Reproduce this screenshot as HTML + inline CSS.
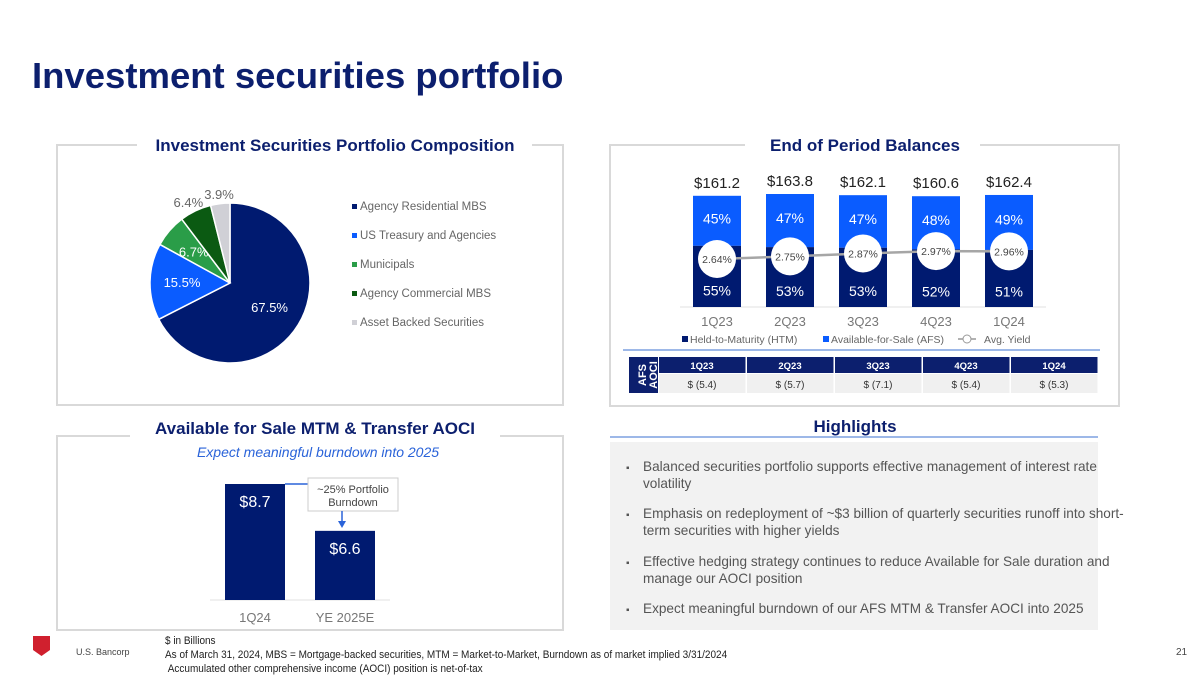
<!DOCTYPE html>
<html><head><meta charset="utf-8"><style>
body{margin:0;background:#fff;}
svg{display:block;font-family:"Liberation Sans",sans-serif;}
</style></head><body>
<svg id="s" width="1200" height="675" viewBox="0 0 1200 675">
<text x="32" y="88" font-size="36.5" font-weight="bold" fill="#0c1f6e">Investment securities portfolio</text>

<g>
<path d="M137 145 H57 V405 H563 V145 H532" fill="none" stroke="#d9d9d9" stroke-width="2"/>
<text x="335" y="151" text-anchor="middle" font-size="17" font-weight="bold" fill="#0c1f6e">Investment Securities Portfolio Composition</text>
<g id="pie"></g>
<g id="pieLegend"></g>
</g>

<g>
<path d="M745 145 H610 V406 H1119 V145 H980" fill="none" stroke="#d9d9d9" stroke-width="2"/>
<text x="865" y="151" text-anchor="middle" font-size="17" font-weight="bold" fill="#0c1f6e">End of Period Balances</text>
<line x1="680" y1="307" x2="1046" y2="307" stroke="#e0e0e0" stroke-width="1"/>
<g id="bars"></g>
<g>
<rect x="682" y="336" width="6" height="6" fill="#001a70"/>
<text x="690" y="343" font-size="10.5" fill="#666">Held-to-Maturity (HTM)</text>
<rect x="823" y="336" width="6" height="6" fill="#0a5cff"/>
<text x="831" y="343" font-size="10.5" fill="#666">Available-for-Sale (AFS)</text>
<line x1="958" y1="339" x2="976" y2="339" stroke="#999" stroke-width="1.5"/>
<circle cx="967" cy="339" r="4" fill="#fff" stroke="#999"/>
<text x="984" y="343" font-size="10.5" fill="#666">Avg. Yield</text>
</g>
<line x1="623" y1="350" x2="1100" y2="350" stroke="#7da0e0" stroke-width="1.5"/>
<g id="tbl">
<rect x="629" y="357" width="29" height="36" fill="#0c1f6e"/>
<text transform="translate(648,375) rotate(-90)" text-anchor="middle" font-size="11" font-weight="bold" fill="#fff"><tspan x="0" dy="-2">AFS</tspan><tspan x="0" dy="11">AOCI</tspan></text>
</g>
</g>

<g>
<path d="M130 436 H57 V630 H563 V436 H500" fill="none" stroke="#d9d9d9" stroke-width="2"/>
<text x="315" y="434" text-anchor="middle" font-size="17" font-weight="bold" fill="#0c1f6e">Available for Sale MTM &amp; Transfer AOCI</text>
<text x="318" y="457" text-anchor="middle" font-size="14" font-style="italic" fill="#2a63d9">Expect meaningful burndown into 2025</text>
<line x1="210" y1="600" x2="390" y2="600" stroke="#e0e0e0"/>
<g id="aoci"></g>
<line x1="285" y1="484" x2="308" y2="484" stroke="#2a63d9" stroke-width="1.5"/>
<rect x="308" y="478" width="90" height="33" fill="#fff" stroke="#ccc"/>
<text x="353" y="493" text-anchor="middle" font-size="11" fill="#444">~25% Portfolio</text>
<text x="353" y="506" text-anchor="middle" font-size="11" fill="#444">Burndown</text>
<line x1="342" y1="511" x2="342" y2="522" stroke="#2a63d9" stroke-width="1.5"/>
<path d="M338 521 L346 521 L342 528 Z" fill="#2a63d9"/>
</g>

<g>
<text x="855" y="432" text-anchor="middle" font-size="17" font-weight="bold" fill="#0c1f6e">Highlights</text>
<line x1="610" y1="437" x2="1098" y2="437" stroke="#7da0e0" stroke-width="1.5"/>
<rect x="610" y="442" width="488" height="188" fill="#f2f2f2"/>
<g font-size="13.6" fill="#555">
<text x="626" y="471" font-size="10">▪</text><text x="643" y="471"><tspan x="643">Balanced securities portfolio supports effective management of interest rate</tspan><tspan x="643" dy="17">volatility</tspan></text>
<text x="626" y="518" font-size="10">▪</text><text x="643" y="518"><tspan x="643">Emphasis on redeployment of ~$3 billion of quarterly securities runoff into short-</tspan><tspan x="643" dy="17">term securities with higher yields</tspan></text>
<text x="626" y="566" font-size="10">▪</text><text x="643" y="566"><tspan x="643">Effective hedging strategy continues to reduce Available for Sale duration and</tspan><tspan x="643" dy="17">manage our AOCI position</tspan></text>
<text x="626" y="613" font-size="10">▪</text><text x="643" y="613">Expect meaningful burndown of our AFS MTM &amp; Transfer AOCI into 2025</text>
</g>
</g>

<path d="M33 636 H50 V650 L41.5 656 L33 650 Z" fill="#d0202e"/>
<text x="76" y="655" font-size="9" fill="#444">U.S. Bancorp</text>
<g font-size="11" fill="#222" transform="translate(165,0) scale(0.91,1)">
<text x="0" y="644">$ in Billions</text>
<text x="0" y="658">As of March 31, 2024, MBS = Mortgage-backed securities, MTM = Market-to-Market, Burndown as of market implied 3/31/2024</text>
<text x="3" y="672">Accumulated other comprehensive income (AOCI) position is net-of-tax</text>
</g>
<text x="1176" y="655" font-size="10" fill="#444">21</text>
</svg>
<script>
const NS='http://www.w3.org/2000/svg';
function mk(p,t,a){const e=document.createElementNS(NS,t);for(const k in a)e.setAttribute(k,a[k]);p.appendChild(e);return e;}

const pieCategories=['Agency Residential MBS','US Treasury and Agencies','Municipals','Agency Commercial MBS','Asset Backed Securities'];
const pieValues=[67.5,15.5,6.7,6.4,3.9];
const pieLabels=['67.5%','15.5%','6.7%','6.4%','3.9%'];
const pieColors=['#001a70','#0a5cff','#2a9d48','#0b5a12','#d0d0d6'];

const quarters=['1Q23','2Q23','3Q23','4Q23','1Q24'];
const totals=[161.2,163.8,162.1,160.6,162.4];
const totalLabels=['$161.2','$163.8','$162.1','$160.6','$162.4'];
const htmPct=[55,53,53,52,51];
const afsPct=[45,47,47,48,49];
const yields=[2.64,2.75,2.87,2.97,2.96];
const aociValues=['$ (5.4)','$ (5.7)','$ (7.1)','$ (5.4)','$ (5.3)'];

const aociCats=['1Q24','YE 2025E'];
const aociVals=[8.7,6.6];
const aociLabels=['$8.7','$6.6'];

(function(){
const g=document.getElementById('pie');const cx=230,cy=283,r=80;
const tot=pieValues.reduce((a,b)=>a+b,0);let a0=0;
pieValues.forEach((v,i)=>{
 const a1=a0+v/tot*2*Math.PI;
 const p=(a)=>[cx+r*Math.sin(a),cy-r*Math.cos(a)];
 const [x0,y0]=p(a0),[x1,y1]=p(a1);
 const s=mk(g,'path',{d:`M${cx} ${cy} L${x0} ${y0} A${r} ${r} 0 ${a1-a0>Math.PI?1:0} 1 ${x1} ${y1} Z`,fill:pieColors[i],stroke:'#fff','stroke-width':1.5});
 
 
 const m=(a0+a1)/2;let lr=i<3?r*0.6:r*1.12;if(i==0)lr=r*0.58;
 let dx=(i==3)?-3:0;
 const t=mk(g,'text',{x:cx+lr*Math.sin(m)+dx,y:cy-lr*Math.cos(m)+5,'text-anchor':'middle','font-size':13,fill:i<3?'#fff':'#666'});
 t.textContent=pieLabels[i];
 
 
 a0=a1;
});
const lg=document.getElementById('pieLegend');
pieCategories.forEach((c,i)=>{
 const y=208+i*29;
 const sq=mk(lg,'rect',{x:352,y:y-4,width:5,height:5,fill:pieColors[i]});
 
 
 const t=mk(lg,'text',{x:360,y:y+2,'font-size':11.5,fill:'#666'});t.textContent=c;
 
 
});
})();

(function(){
const g=document.getElementById('bars');
const base=307,k=113/163.8,bw=48;
const xOf=i=>693+i*73;
const yY=v=>259-(v-2.64)*24;
quarters.forEach((q,i)=>{
 const x=xOf(i),h=totals[i]*k,top=base-h,hh=h*htmPct[i]/100;
 const a=mk(g,'rect',{x:x,y:top,width:bw,height:h-hh,fill:'#0a5cff'});
 
 
 const b=mk(g,'rect',{x:x,y:base-hh,width:bw,height:hh,fill:'#001a70'});
 
 
 const t1=mk(g,'text',{x:x+bw/2,y:top-8,'text-anchor':'middle','font-size':15,fill:'#222'});t1.textContent=totalLabels[i];
 
 
 const t2=mk(g,'text',{x:x+bw/2,y:top+(h-hh)*0.45+5,'text-anchor':'middle','font-size':14,fill:'#fff'});t2.textContent=afsPct[i]+'%';
 
 
 const t3=mk(g,'text',{x:x+bw/2,y:base-hh*0.25+4,'text-anchor':'middle','font-size':14,fill:'#fff'});t3.textContent=htmPct[i]+'%';
 
 
 const t4=mk(g,'text',{x:x+bw/2,y:326,'text-anchor':'middle','font-size':13,fill:'#777'});t4.textContent=q;
 
 
});
const pts=yields.map((v,i)=>(xOf(i)+bw/2)+','+yY(v)).join(' ');
const ln=mk(g,'polyline',{points:pts,fill:'none',stroke:'#a6a6a6','stroke-width':2.5});


yields.forEach((v,i)=>{
 const c=mk(g,'circle',{cx:xOf(i)+bw/2,cy:yY(v),r:19,fill:'#fff'});
 
 
 const t=mk(g,'text',{x:xOf(i)+bw/2,y:yY(v)+4,'text-anchor':'middle','font-size':10.5,fill:'#444'});t.textContent=v.toFixed(2)+'%';
 
 
});
const tb=document.getElementById('tbl');
quarters.forEach((q,i)=>{
 const x=659+i*88;
 const h=mk(tb,'rect',{x:x,y:357,width:86.5,height:16,fill:'#0c1f6e'});
 
 
 const ht=mk(tb,'text',{x:x+43,y:369,'text-anchor':'middle','font-size':9.5,'font-weight':'bold',fill:'#fff'});ht.textContent=q;
 
 
 const c=mk(tb,'rect',{x:x,y:374,width:86.5,height:19,fill:'#f0f0f0'});
 
 
 const ct=mk(tb,'text',{x:x+43,y:388,'text-anchor':'middle','font-size':10,fill:'#333'});ct.textContent=aociValues[i];
 
 
});
})();

(function(){
const g=document.getElementById('aoci');
const base=600,min=3.5,k=116/(8.7-min);
aociCats.forEach((c,i)=>{
 const x=225+i*90,top=base-(aociVals[i]-min)*k;
 const r=mk(g,'rect',{x:x,y:top,width:60,height:base-top,fill:'#001a70'});
 
 
 const t=mk(g,'text',{x:x+30,y:top+23,'text-anchor':'middle','font-size':16,fill:'#fff'});t.textContent=aociLabels[i];
 
 
 const l=mk(g,'text',{x:x+30,y:622,'text-anchor':'middle','font-size':13,fill:'#777'});l.textContent=c;
 
 
});
})();
</script>
</body></html>
